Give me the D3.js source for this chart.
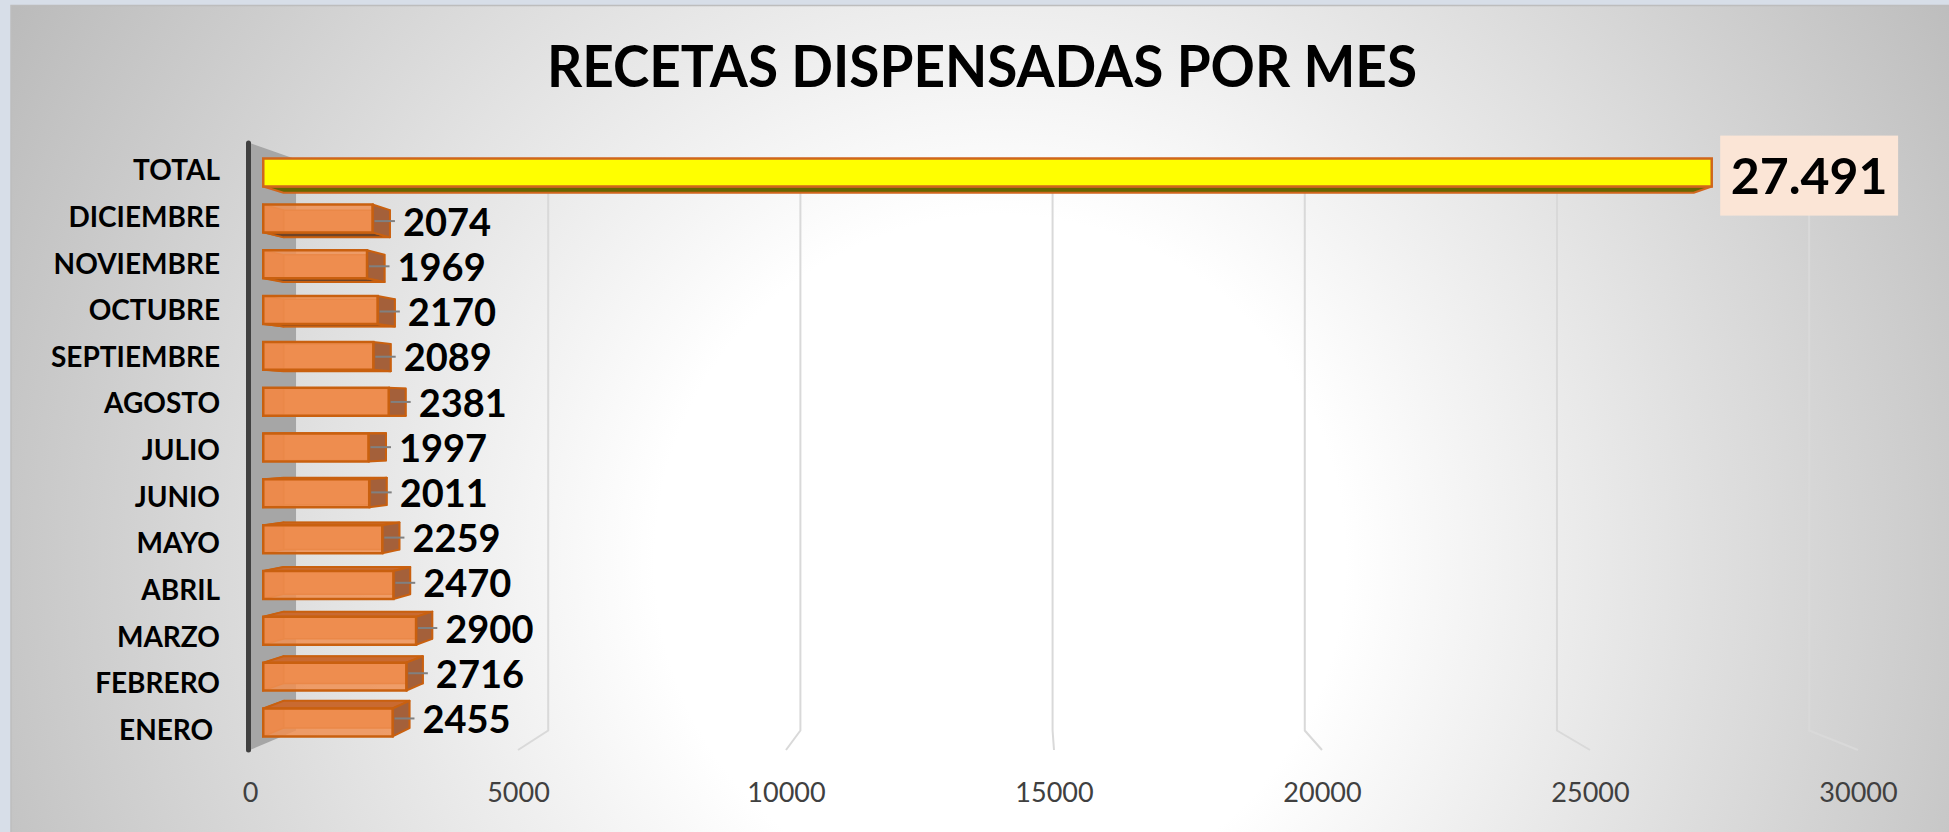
<!DOCTYPE html>
<html><head><meta charset="utf-8">
<script src="https://cdn.jsdelivr.net/npm/d3@7"></script>
<style>html,body{margin:0;padding:0;background:#d7dee8;overflow:hidden;} svg{display:block;} text{font-family:Lato,'Open Sans',sans-serif;}</style>
</head><body><svg id="chart" width="1949" height="832"></svg>
<script>
// ---------------- data ----------------
const title = "RECETAS DISPENSADAS POR MES";
const months = ["ENERO ","FEBRERO","MARZO","ABRIL","MAYO","JUNIO","JULIO","AGOSTO","SEPTIEMBRE","OCTUBRE","NOVIEMBRE","DICIEMBRE"];
const monthValues = [2455,2716,2900,2470,2259,2011,1997,2381,2089,2170,1969,2074];
const totalLabel = "TOTAL";
const totalValue = 27491;
const xTicks = [0,5000,10000,15000,20000,25000,30000];

// ---------------- setup ----------------
const W = 1949, H = 832;
const svg = d3.select("#chart");
const defs = svg.append("defs");
const grad = defs.append("radialGradient").attr("id","bg")
  .attr("gradientUnits","userSpaceOnUse").attr("cx",1000).attr("cy",560).attr("r",1150);
grad.append("stop").attr("offset",0).attr("stop-color","#ffffff");
grad.append("stop").attr("offset",0.3).attr("stop-color","#ffffff");
grad.append("stop").attr("offset",1).attr("stop-color","#b9b9b9");

svg.append("rect").attr("x",0).attr("y",0).attr("width",W).attr("height",H).attr("fill","#d7dee8");
svg.append("rect").attr("x",11).attr("y",6).attr("width",W-11).attr("height",H-6).attr("fill","url(#bg)");
svg.append("path").attr("d",`M11,${H} L11,5.5 L${W},5.5`).attr("fill","none").attr("stroke","#bdbdbd").attr("stroke-width",1.5);

// title
svg.append("text").text(title)
  .attr("x",982).attr("y",87).attr("text-anchor","middle")
  .attr("font-size",57).attr("font-weight",700).attr("fill","#000")
  .attr("textLength",870).attr("lengthAdjust","spacingAndGlyphs");

// ---------------- 3D projection ----------------
const VP = [1030, 420];
const S_FRONT = 0.983, S_BACK = 0.957, S_WALL = 0.941;
const proj = (px, py, s) => [VP[0] + (px - VP[0]) * s, VP[1] + (py - VP[1]) * s];
const plotTop = 143, plotBottom = 750;

const x = d3.scaleLinear().domain([0, 30000]).range([250, 1858]);
const cats = [totalLabel, ...months.slice().reverse()];
const vals = [totalValue, ...monthValues.slice().reverse()];
const y = d3.scaleBand().domain(cats).range([plotTop + 2, plotBottom + 1])
  .paddingInner(0.39).paddingOuter(0.195);
const bw = y.bandwidth();
const line = d3.line();
const poly = pts => line(pts) + "Z";

const plot = svg.append("g");

// side wall (left)
plot.append("path")
  .attr("d", poly([[x(0), plotTop], proj(x(0), plotTop, S_WALL), proj(x(0), plotBottom, S_WALL), [x(0), plotBottom]]))
  .attr("fill", "#a6a6a6");

// gridlines on back wall + floor
plot.selectAll(".grid").data(xTicks.filter(d => d > 0)).join("path")
  .attr("class","grid")
  .attr("d", d => line([proj(x(d), plotTop, S_WALL), proj(x(d), plotBottom, S_WALL), [x(d), plotBottom]]))
  .attr("fill","none").attr("stroke","#d9d9d9").attr("stroke-width",2);

// axis line (front edge of wall)
plot.append("line")
  .attr("x1", x(0) - 1.5).attr("x2", x(0) - 1.5).attr("y1", plotTop).attr("y2", plotBottom)
  .attr("stroke","#404040").attr("stroke-width",5).attr("stroke-linecap","round");

// x tick labels
const axis = d3.axisBottom(x).tickValues(xTicks).tickSize(0).tickFormat(d3.format("d"));
const axG = svg.append("g").attr("transform","translate(0,792)").call(axis);
axG.select(".domain").remove();
axG.selectAll("text").attr("y",0).attr("dy","0.36em")
  .attr("font-size",27).attr("fill","#404040").style("font-family","Lato,'Open Sans',sans-serif");

// bars
const barsG = plot.append("g");
cats.forEach((c, i) => {
  const v = vals[i];
  const x0 = x(0), x1 = x(v), y0 = y(c), y1 = y0 + bw;
  const F = (px, py) => proj(px, py, S_FRONT);
  const B = (px, py) => proj(px, py, S_BACK);
  const g = barsG.append("g");
  const isTotal = c === totalLabel;
  if (isTotal) {
    g.append("path").attr("d", poly([F(x0,y1), F(x1,y1), B(x1,y1), B(x0,y1)]))
      .attr("fill","#666600").attr("stroke","#d0661c").attr("stroke-width",2).attr("stroke-linejoin","round");
    g.append("path").attr("d", poly([F(x0,y0), F(x1,y0), F(x1,y1), F(x0,y1)]))
      .attr("fill","#ffff00").attr("stroke","#d0661c").attr("stroke-width",2.5);
  } else {
    const stroke = "#c9600f";
    g.append("path").attr("d", poly([B(x0,y0), B(x1,y0), B(x1,y1), B(x0,y1)]))
      .attr("fill","#e47d3c").attr("stroke",stroke).attr("stroke-width",1.5);
    g.append("path").attr("d", poly([F(x0,y0), B(x0,y0), B(x0,y1), F(x0,y1)]))
      .attr("fill","#d86a2a").attr("stroke",stroke).attr("stroke-width",1.5);
    if (B(x0,y0)[1] < F(x0,y0)[1]) {
      g.append("path").attr("d", poly([F(x0,y0), F(x1,y0), B(x1,y0), B(x0,y0)]))
        .attr("fill","#c96a31").attr("stroke",stroke).attr("stroke-width",2).attr("stroke-linejoin","round");
    }
    if (B(x0,y1)[1] > F(x0,y1)[1]) {
      g.append("path").attr("d", poly([F(x0,y1), F(x1,y1), B(x1,y1), B(x0,y1)]))
        .attr("fill","#6e4327").attr("stroke",stroke).attr("stroke-width",2).attr("stroke-linejoin","round");
    }
    g.append("path").attr("d", poly([F(x1,y0), B(x1,y0), B(x1,y1), F(x1,y1)]))
      .attr("fill","#a4603a").attr("stroke",stroke).attr("stroke-width",2).attr("stroke-linejoin","round");
    g.append("path").attr("d", poly([F(x0,y0), F(x1,y0), F(x1,y1), F(x0,y1)]))
      .attr("fill","#f08f52").attr("fill-opacity",0.85).attr("stroke",stroke).attr("stroke-width",2.5);
  }
});

// category labels
svg.append("g").selectAll("text").data(cats).join("text")
  .text(d => d)
  .attr("x", 220).attr("y", d => y(d) + bw / 2 + 2 + 0.36 * 28)
  .attr("text-anchor","end").attr("font-size",28).attr("font-weight",700).attr("fill","#000")
  .style("white-space","pre");

// month data labels with leader lines
const lblG = svg.append("g");
cats.forEach((c, i) => {
  if (c === totalLabel) return;
  const v = vals[i];
  const yc = y(c) + bw / 2;
  const pf = proj(x(v), yc, S_FRONT);
  const pb = proj(x(v), yc, S_BACK);
  const lx = pb[0] + 13;
  const ly = proj(x(v), yc, 0.97)[1];
  lblG.append("line").attr("x1", pf[0] + 2).attr("x2", lx - 8).attr("y1", ly).attr("y2", ly)
    .attr("stroke","#808080").attr("stroke-width",2);
  lblG.append("text").text(d3.format("d")(v))
    .attr("x", lx).attr("y", ly + 1 + 0.36 * 38)
    .attr("font-size",38).attr("font-weight",700).attr("fill","#000");
});

// total label with box
const esLocale = d3.formatLocale({decimal: ",", thousands: ".", grouping: [3], currency: ["", "€"]});
{
  const yc = y(totalLabel) + bw / 2;
  const pf = proj(x(totalValue), yc, S_FRONT);
  const tx = pf[0] + 19, ty = pf[1] + 3;
  const box = lblG.append("rect").attr("fill","#fbe5d6");
  const t = lblG.append("text").text(esLocale.format(",d")(totalValue))
    .attr("x", tx).attr("y", ty + 0.36 * 50)
    .attr("font-size",50).attr("font-weight",700).attr("fill","#000");
  const bb = t.node().getBBox();
  box.attr("x", tx - 10.5).attr("y", ty - 40).attr("width", bb.width + 21).attr("height", 80);
}
</script>
</body></html>
